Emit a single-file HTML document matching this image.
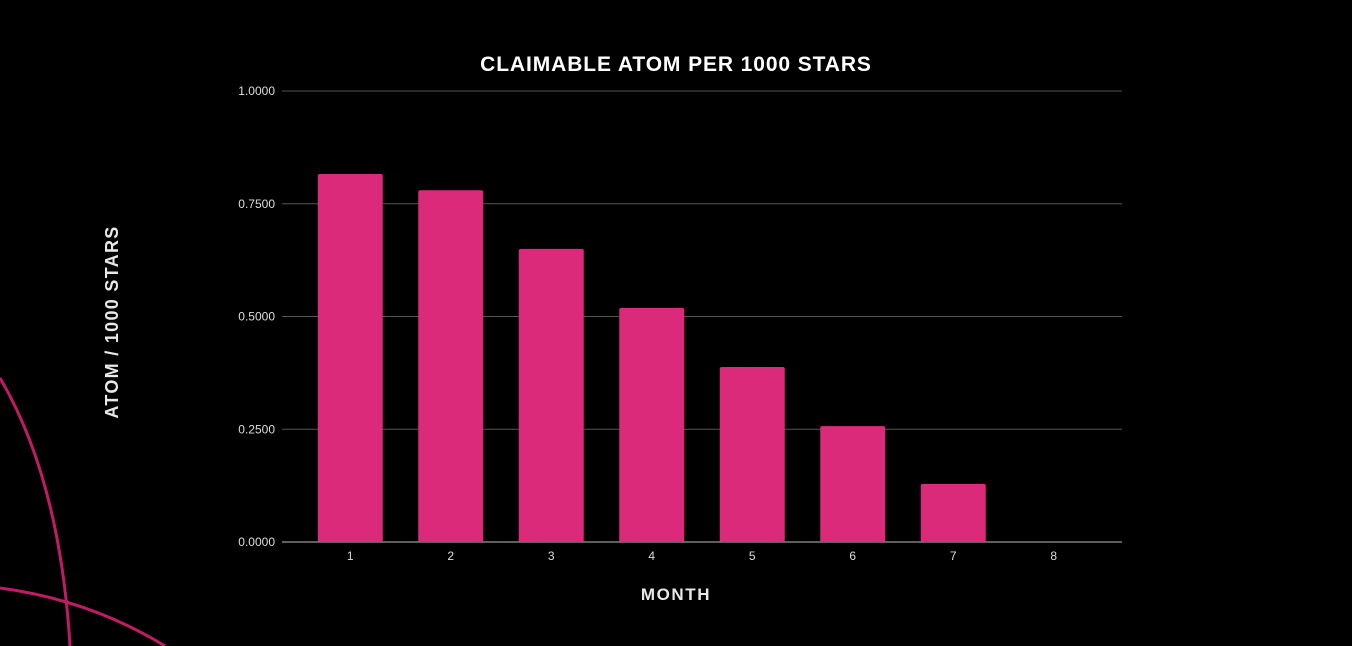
<!DOCTYPE html>
<html><head><meta charset="utf-8"><style>
html,body{margin:0;padding:0;background:#000;}
svg{display:block;}
</style></head><body>
<svg width="1352" height="646" viewBox="0 0 1352 646" id="chart">
<rect width="1352" height="646" fill="#000"/>
<path d="M0,378 Q60,480 70,646" fill="none" stroke="#c01c66" stroke-width="3"/>
<path d="M0,588 Q90,600 165,646" fill="none" stroke="#c01c66" stroke-width="3"/>
<text x="676" y="71" text-anchor="middle" fill="#fff" font-family="Liberation Sans, sans-serif" font-weight="bold" font-size="21" letter-spacing="0.9">CLAIMABLE ATOM PER 1000 STARS</text>
<text x="676" y="600" text-anchor="middle" fill="#e8e8e8" font-family="Liberation Sans, sans-serif" font-weight="bold" font-size="17" letter-spacing="1.6">MONTH</text>
<text transform="translate(118,322) rotate(-90)" text-anchor="middle" fill="#e8e8e8" font-family="Liberation Sans, sans-serif" font-weight="bold" font-size="18" letter-spacing="1.3">ATOM / 1000 STARS</text>
<g id="grid"></g><g id="bars"></g><g id="labels"></g>
</svg>
<script>
const categories = ["1","2","3","4","5","6","7","8"];
const values = [0.816, 0.780, 0.650, 0.519, 0.388, 0.257, 0.129, 0];
const yTicks = [0, 0.25, 0.5, 0.75, 1.0];
const yTickLabels = ["0.0000","0.2500","0.5000","0.7500","1.0000"];
const NS = "http://www.w3.org/2000/svg";
const x0 = 300, x1 = 1104, y0 = 542, y1 = 91;
const band = (x1 - x0) / categories.length;
const barW = 65;
function y(v){ return y0 - (v / 1.0) * (y0 - y1); }
function xc(i){ return x0 + band * (i + 0.5); }
const grid = document.getElementById('grid'), bars = document.getElementById('bars'), labels = document.getElementById('labels');
yTicks.forEach((t, i) => {
  const l = document.createElementNS(NS, 'line');
  l.setAttribute('x1', 282); l.setAttribute('x2', 1122);
  l.setAttribute('y1', y(t)); l.setAttribute('y2', y(t));
  l.setAttribute('stroke', t === 0 ? '#bbb' : '#555'); l.setAttribute('stroke-width', 1);
  
  
  grid.appendChild(l);
  const tx = document.createElementNS(NS, 'text');
  tx.setAttribute('x', 275); tx.setAttribute('y', y(t) + 4);
  tx.setAttribute('text-anchor', 'end'); tx.setAttribute('fill', '#ddd');
  tx.setAttribute('font-family', 'Liberation Sans, sans-serif'); tx.setAttribute('font-size', '12');
  tx.textContent = yTickLabels[i];
  
  
  labels.appendChild(tx);
});
categories.forEach((c, i) => {
  const r = document.createElementNS(NS, 'rect');
  const h = y0 - y(values[i]);
  r.setAttribute('x', xc(i) - barW / 2); r.setAttribute('y', y(values[i]));
  r.setAttribute('width', barW); r.setAttribute('height', Math.max(h, 0));
  r.setAttribute('rx', 2); r.setAttribute('fill', '#dc2a7a');
  
  
  bars.appendChild(r);
  const tx = document.createElementNS(NS, 'text');
  tx.setAttribute('x', xc(i)); tx.setAttribute('y', 560);
  tx.setAttribute('text-anchor', 'middle'); tx.setAttribute('fill', '#ddd');
  tx.setAttribute('font-family', 'Liberation Sans, sans-serif'); tx.setAttribute('font-size', '12');
  tx.textContent = c;
  
  
  labels.appendChild(tx);
});
</script>
</body></html>
